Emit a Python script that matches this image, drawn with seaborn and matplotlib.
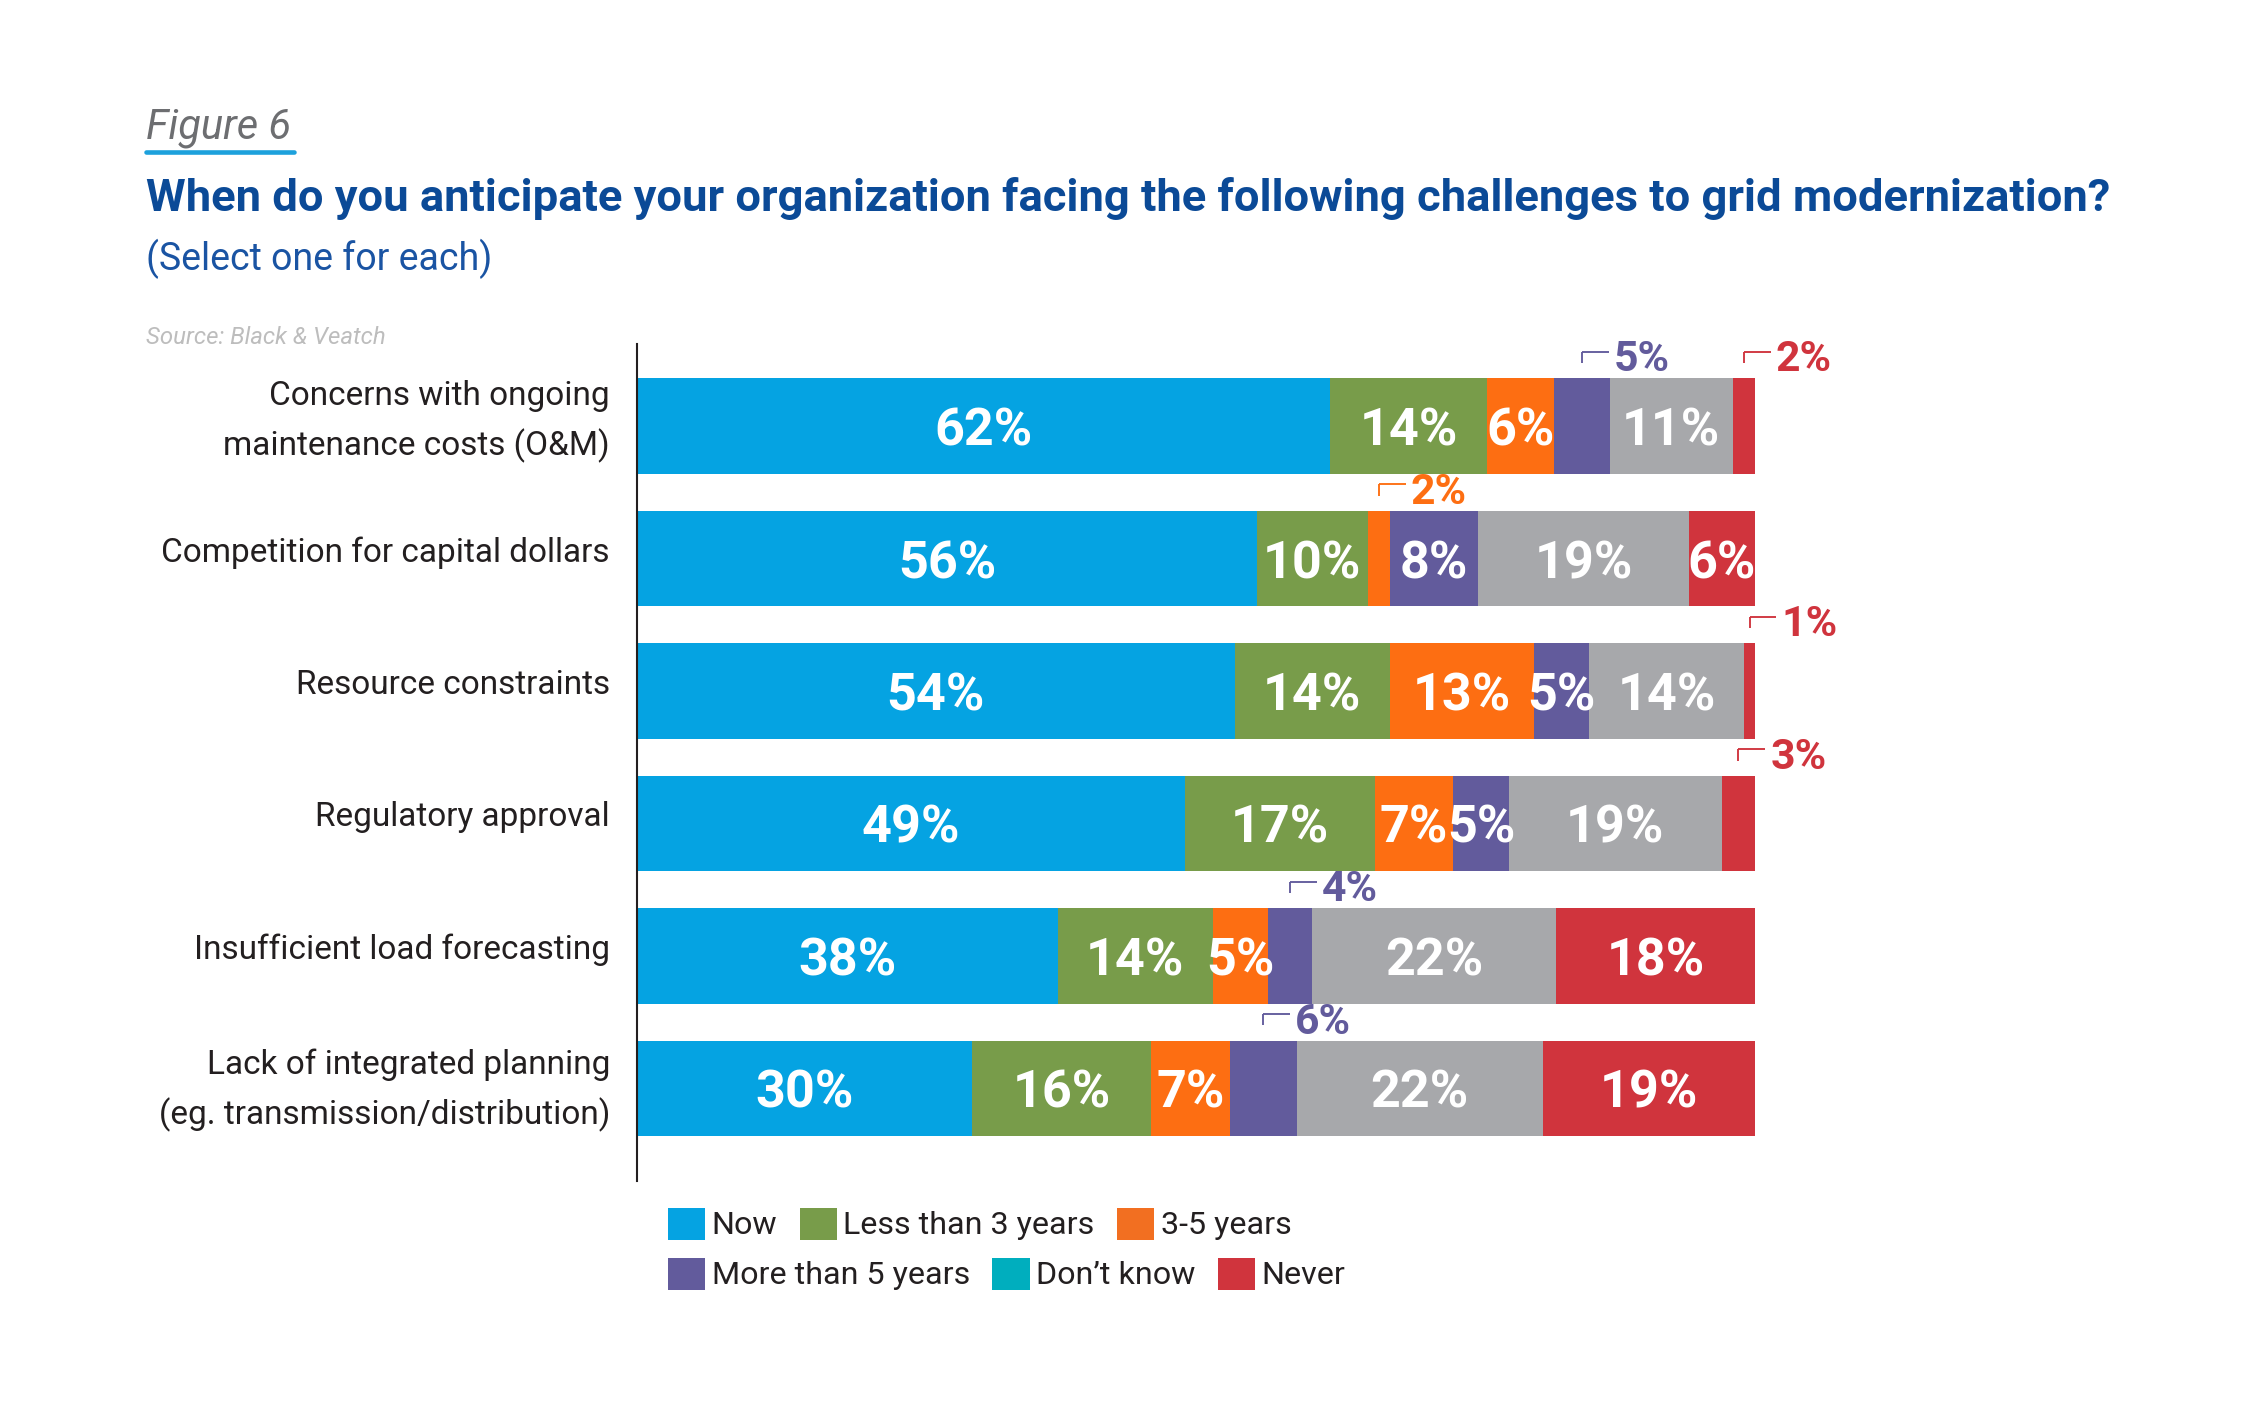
import numpy as np
import pandas as pd
import matplotlib.pyplot as plt
import seaborn as sns
from matplotlib.patches import Patch
from matplotlib.lines import Line2D
from matplotlib.transforms import ScaledTranslation

# data (percent of respondents)
challenges = [
    "Concerns with ongoing\nmaintenance costs (O&M)",
    "Competition for capital dollars",
    "Resource constraints",
    "Regulatory approval",
    "Insufficient load forecasting",
    "Lack of integrated planning\n(eg. transmission/distribution)",
]
answers = ["Now", "Less than 3 years", "3-5 years", "More than 5 years", "Don\u2019t know", "Never"]
now = [62, 56, 54, 49, 38, 30]
less_3 = [14, 10, 14, 17, 14, 16]
y3_5 = [6, 2, 13, 7, 5, 7]
more_5 = [5, 8, 5, 5, 4, 6]
dont_know = [11, 19, 14, 19, 22, 22]
never = [2, 6, 1, 3, 18, 19]

# small segments labelled above the bar: (row, answer index)
outside = [(0, 3), (0, 5), (1, 2), (2, 5), (3, 5), (4, 3), (5, 3)]

bar_colors = ["#05A3E2", "#789C4A", "#FD6E12", "#625B9C", "#A7A8AB", "#D0343D"]
legend_colors = ["#05A3E2", "#789C4A", "#F26F21", "#625B9C", "#00AEBE", "#D0343D"]

series = [now, less_3, y3_5, more_5, dont_know, never]
df = pd.DataFrame({a: v for a, v in zip(answers, series)}, index=challenges)
# 100% stacked: rows that round to 101 are scaled back to 100
share = df.div(df.sum(axis=1), axis=0) * 100
cum = share.cumsum(axis=1)
left = cum - share

sns.set_style("white")
plt.rcParams["font.family"] = ["Roboto", "DejaVu Sans"]
narrow = ["Liberation Sans Narrow", "Roboto", "DejaVu Sans"]

fig = plt.figure(figsize=(15, 9.5), dpi=150)
ax = fig.add_axes([637 / 2250, 1 - 1181 / 1425, 1230 / 2250, 837 / 1425])

# stacked bars: draw cumulative totals from the last answer back to the first
for a, c in reversed(list(zip(answers, bar_colors))):
    d = pd.DataFrame({"challenge": challenges, "value": cum[a].values})
    sns.barplot(data=d, x="value", y="challenge", color=c, saturation=1,
                width=0.72, errorbar=None, linewidth=0, orient="h", ax=ax)

ax.set_xlim(0, 110)
ax.set_ylim(5.70, -0.62)
ax.set_xlabel("")
ax.set_ylabel("")
ax.set_xticks([])
sns.despine(ax=ax, top=True, right=True, bottom=True, left=False)
ax.spines["left"].set_color("#231F20")
ax.spines["left"].set_linewidth(1.0)
ax.tick_params(axis="y", length=0, pad=13)
ax.set_yticks(range(len(challenges)))
ax.set_yticklabels(challenges, fontsize=16, color="#231F20", family=narrow,
                   linespacing=1.6, multialignment="right")
for k, lbl in enumerate(ax.get_yticklabels()):
    dy = 0.11 if k == 0 else 0.065
    lbl.set_transform(lbl.get_transform() + ScaledTranslation(0, dy, fig.dpi_scale_trans))

# value labels
for i, ch in enumerate(challenges):
    for j, a in enumerate(answers):
        v = df.loc[ch, a]
        w = share.loc[ch, a]
        x0 = left.loc[ch, a] + w / 2
        if (i, j) in outside:
            top = i - 0.36
            ly = top - 0.2
            ax.plot([x0, x0], [ly + 0.085, ly], color=bar_colors[j], lw=0.9, solid_capstyle="butt")
            ax.plot([x0, x0 + 2.4], [ly, ly], color=bar_colors[j], lw=0.9, solid_capstyle="butt")
            ax.text(x0 + 2.85, ly + 0.06, f"{v}%", ha="left", va="center",
                    color=bar_colors[j], fontsize=20.5, fontweight="bold")
        else:
            ax.text(x0, i, f"{v}%", ha="center", va="center_baseline",
                    color="white", fontsize=25, fontweight="bold")

# legend in two rows
handles = [Patch(facecolor=c, edgecolor="none") for c in legend_colors]
leg_kw = dict(ncol=3, frameon=False, handlelength=1.15, handleheight=1.15,
              handletextpad=0.2, columnspacing=0.7, borderpad=0, borderaxespad=0,
              loc="center left", prop={"family": narrow, "size": 15.5})
leg1 = fig.legend(handles[:3], answers[:3], bbox_to_anchor=(668 / 2250, 1 - 1224 / 1425), **leg_kw)
leg2 = fig.legend(handles[3:], answers[3:], bbox_to_anchor=(668 / 2250, 1 - 1274 / 1425), **leg_kw)
for leg in (leg1, leg2):
    for t in leg.get_texts():
        t.set_color("#231F20")

# headings
x_left = 146 / 2250
fig.text(x_left, 1 - 127 / 1425, "Figure 6", fontsize=20, style="italic", color="#6D6E71",
         ha="left", va="center")
fig.add_artist(Line2D([x_left, 294 / 2250], [1 - 152 / 1425] * 2, color="#1DA1DC", lw=2.2))
fig.text(x_left, 1 - 198 / 1425, "When do you anticipate your organization facing the following "
         "challenges to grid modernization?", fontsize=21.8, fontweight="bold", color="#0B4A97",
         ha="left", va="center")
fig.text(x_left, 1 - 259 / 1425, "(Select one for each)", fontsize=18, fontweight="normal",
         color="#1A54A3", ha="left", va="center")
fig.text(x_left, 1 - 337 / 1425, "Source: Black & Veatch", fontsize=11.5, style="italic",
         color="#BDBDBD", ha="left", va="center")

fig.savefig("out.png", dpi=150, facecolor="white")
